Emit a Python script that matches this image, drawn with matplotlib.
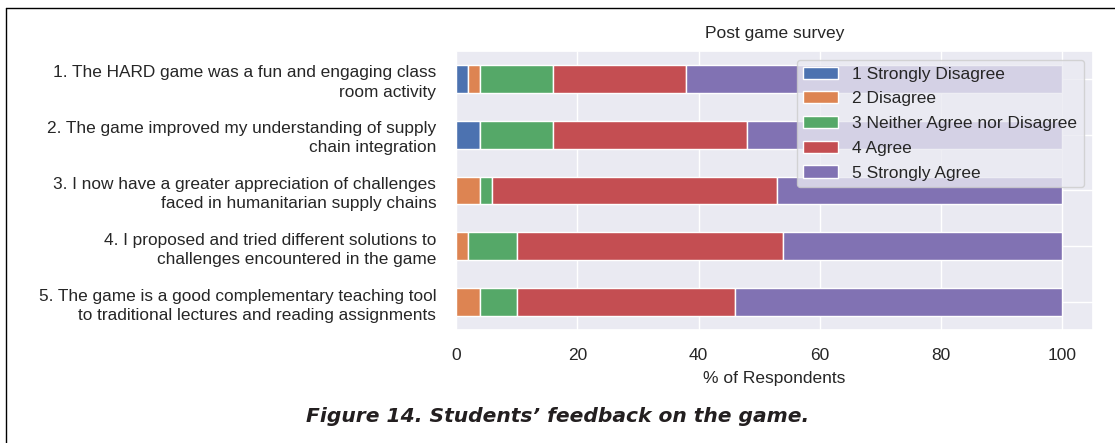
import numpy as np
import matplotlib
matplotlib.use("Agg")
import matplotlib.pyplot as plt
import seaborn as sns
from matplotlib.lines import Line2D

# Survey statements (y axis), top to bottom
statements = [
    "1. The HARD game was a fun and engaging class\nroom activity",
    "2. The game improved my understanding of supply\nchain integration",
    "3. I now have a greater appreciation of challenges\nfaced in humanitarian supply chains",
    "4. I proposed and tried different solutions to\nchallenges encountered in the game",
    "5. The game is a good complementary teaching tool\nto traditional lectures and reading assignments",
]

# Likert categories (legend)
levels = ["1 Strongly Disagree", "2 Disagree", "3 Neither Agree nor Disagree",
          "4 Agree", "5 Strongly Agree"]

# % of respondents per statement, one list per level
strongly_disagree = [2, 4, 0, 0, 0]
disagree = [2, 0, 4, 2, 4]
neutral = [12, 12, 2, 8, 6]
agree = [22, 32, 47, 44, 36]
strongly_agree = [62, 52, 47, 46, 54]

series = [strongly_disagree, disagree, neutral, agree, strongly_agree]
xticks = [0, 20, 40, 60, 80, 100]

sns.set_theme(style="darkgrid")
plt.rcParams["font.family"] = ["Liberation Sans", "DejaVu Sans"]
colors = sns.color_palette("deep", 5)

fig = plt.figure(figsize=(11.15, 4.43), dpi=100)
ax = fig.add_axes([0.409, 0.255, 0.571, 0.630])

y = np.arange(len(statements))
left = np.zeros(len(statements))
for vals, lab, col in zip(series, levels, colors):
    vals = np.array(vals, dtype=float)
    ax.barh(y, vals, left=left, height=0.5, color=col, edgecolor="white",
            linewidth=1, label=lab)
    left += vals

ax.set_yticks(y)
ax.set_yticklabels(statements, fontsize=12.4, linespacing=1.35)
ax.tick_params(axis="y", pad=8.3)
ax.set_ylim(4.5, -0.5)
ax.set_xlim(0, 105)
ax.set_xticks(xticks)
ax.tick_params(axis="x", labelsize=12.5, pad=7)
ax.set_xlabel("% of Respondents", fontsize=12.5, labelpad=6)
ax.set_title("Post game survey", fontsize=12.5, pad=9)
ax.legend(loc="upper right", fontsize=12.5, handlelength=2.0,
          labelspacing=0.55, borderpad=0.4)

# caption below the chart
fig.text(0.5, 0.06, "Figure 14. Students\u2019 feedback on the game.",
         ha="center", va="center", fontsize=14.6, fontweight="bold",
         style="italic", family=["DejaVu Sans"], color="#231f20")

# page frame (left + top edges)
fig.add_artist(Line2D([6 / 1115, 6 / 1115], [0, 1 - 8 / 443],
                      transform=fig.transFigure, color="black", lw=1))
fig.add_artist(Line2D([6 / 1115, 1], [1 - 8 / 443, 1 - 8 / 443],
                      transform=fig.transFigure, color="black", lw=1))

fig.savefig("out.png", dpi=100)
